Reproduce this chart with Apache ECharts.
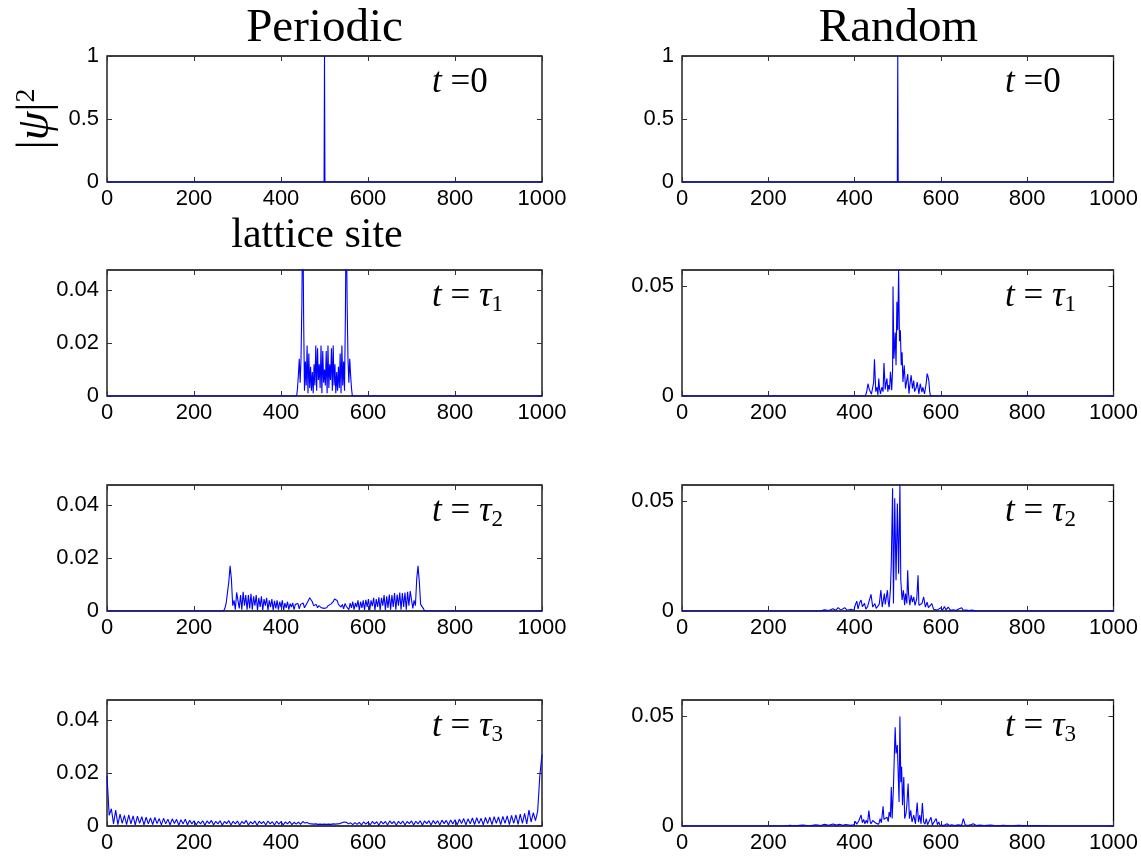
<!DOCTYPE html>
<html>
<head>
<meta charset="utf-8">
<script src="https://cdn.jsdelivr.net/npm/echarts@6/dist/echarts.min.js"></script>
<style>
html,body{margin:0;padding:0;background:#fff;}
#chart{width:1141px;height:856px;}
</style>
</head>
<body>
<div id="chart"></div>
<script>
// ---------------- DATA ----------------
const columnTitles = ['Periodic', 'Random'];
const xAxisTitle = 'lattice site';
const rowLabels = ['0', '1', '2', '3']; // t=0, tau1, tau2, tau3

// t = 0 (both columns): single occupied site
const t0Sites = [0, 499, 500, 501, 1000];
const t0Vals  = [0, 0, 1, 0, 0];

// Periodic, t = tau1 : sites 436..564 every 2
const perT1Start = 436, perT1Step = 2;
const perT1Vals = [0, 0.003, 0.008, 0.014, 0.005, 0.014, 0.035, 0.075, 0.03, 0.002,
  0.013, 0.004, 0.019, 0.001, 0.016, 0.003, 0.011, 0.002, 0.009, 0.001,
  0.012, 0.004, 0.019, 0.002, 0.018, 0.006, 0.012, 0.003, 0.019, 0.001,
  0.017, 0.005, 0.010, 0.004, 0.017, 0.001, 0.019, 0.003, 0.012, 0.006,
  0.018, 0.002, 0.019, 0.004, 0.012, 0.001, 0.009, 0.002, 0.011, 0.003,
  0.016, 0.001, 0.019, 0.004, 0.013, 0.002, 0.03, 0.075, 0.035, 0.014,
  0.005, 0.014, 0.008, 0.003, 0];

// Periodic, t = tau2 : sites 268..730 every 3
const perT2Start = 268, perT2Step = 3;
const perT2Vals = [0, 0.001, 0.003, 0.0025, 0.011, 0.017, 0.012, 0.002, 0.004, 0.0005,
  0.007, 0.0075, 0.001, 0.006, 0.0005, 0.0072, 0.002, 0.006, 0.0005, 0.006,
  0.001, 0.0065, 0.0005, 0.0055, 0.002, 0.006, 0.0003, 0.005, 0.0015, 0.0055,
  0.0003, 0.0045, 0.002, 0.005, 0.0003, 0.004, 0.0015, 0.0045, 0.0003, 0.0038,
  0.001, 0.004, 0.0005, 0.0035, 0.0015, 0.004, 0.0003, 0.003, 0.0012, 0.0035,
  0.0005, 0.0028, 0.0015, 0.003, 0.0005, 0.0025, 0.0018, 0.0028, 0.0008, 0.0025,
  0.002, 0.003, 0.0012, 0.0022, 0.0025, 0.004, 0.005, 0.0045, 0.0035, 0.002,
  0.0015, 0.0025, 0.0012, 0.002, 0.0015, 0.0012, 0.0018, 0.001, 0.0015, 0.0012,
  0.002, 0.0015, 0.0025, 0.002, 0.0035, 0.0045, 0.005, 0.004, 0.0025, 0.002,
  0.0015, 0.0025, 0.0008, 0.0028, 0.0018, 0.0025, 0.0005, 0.003, 0.0012, 0.0035,
  0.0005, 0.003, 0.0015, 0.004, 0.0003, 0.0035, 0.0012, 0.004, 0.0004, 0.0042,
  0.0015, 0.0045, 0.0003, 0.004, 0.0018, 0.005, 0.0003, 0.0045, 0.0015, 0.0052,
  0.0003, 0.005, 0.002, 0.006, 0.0003, 0.0055, 0.0012, 0.0062, 0.0005, 0.006,
  0.0015, 0.0068, 0.0005, 0.0062, 0.002, 0.007, 0.0005, 0.0068, 0.0015, 0.007,
  0.0005, 0.0072, 0.002, 0.0075, 0.007, 0.001, 0.004, 0.002, 0.012, 0.017,
  0.011, 0.0025, 0.003, 0.001, 0];

// Periodic, t = tau3 : sites 0..1000 every 5
const perT3Start = 0, perT3Step = 5;
const perT3Vals = [
  0.019, 0.004, 0.0065, 0.0008, 0.006, 0.0005, 0.0045, 0.001, 0.004, 0.0005,
  0.0042, 0.0008, 0.0038, 0.0004, 0.0037, 0.001, 0.0035, 0.0004, 0.0033, 0.0008,
  0.003, 0.0005, 0.0032, 0.0009, 0.0028, 0.0004, 0.0029, 0.0008, 0.0026, 0.0004,
  0.0027, 0.0009, 0.0025, 0.0003, 0.0024, 0.0008, 0.0026, 0.0004, 0.0022, 0.0008,
  0.002, 0.0004, 0.0018, 0.0008, 0.002, 0.0003, 0.0019, 0.0009, 0.0021, 0.0004,
  0.0018, 0.0008, 0.002, 0.0003, 0.0017, 0.0009, 0.002, 0.0004, 0.0018, 0.0008,
  0.0019, 0.0003, 0.0017, 0.0009, 0.0021, 0.0004, 0.0016, 0.0008, 0.0019, 0.0003,
  0.0018, 0.0009, 0.0017, 0.0004, 0.0019, 0.0008, 0.0016, 0.0004, 0.0018, 0.0007,
  0.0017, 0.0004, 0.0015, 0.0008, 0.0017, 0.0005, 0.0014, 0.0007, 0.0015, 0.0006,
  0.0017, 0.0011, 0.0013, 0.0009, 0.0008, 0.0007, 0.0008, 0.0006, 0.0007, 0.0006,
  0.0007, 0.0006, 0.0007, 0.0006, 0.0008, 0.0007, 0.0008, 0.0009, 0.0012, 0.0015,
  0.0014, 0.0008, 0.0012, 0.0005, 0.0013, 0.0006, 0.0014, 0.0004, 0.0016, 0.0007,
  0.0015, 0.0004, 0.0017, 0.0008, 0.0016, 0.0003, 0.0018, 0.0008, 0.0017, 0.0004,
  0.0019, 0.0009, 0.0017, 0.0003, 0.0018, 0.0008, 0.0019, 0.0004, 0.0017, 0.0009,
  0.0019, 0.0004, 0.0018, 0.0008, 0.002, 0.0003, 0.0019, 0.0009, 0.002, 0.0004,
  0.0021, 0.0008, 0.002, 0.0004, 0.0022, 0.0009, 0.0021, 0.0004, 0.0023, 0.0008,
  0.0024, 0.0004, 0.0026, 0.0009, 0.0028, 0.0004, 0.0027, 0.0008, 0.003, 0.0005,
  0.0031, 0.0009, 0.0029, 0.0004, 0.0032, 0.0009, 0.0033, 0.0005, 0.0035, 0.001,
  0.0034, 0.0005, 0.0036, 0.001, 0.0038, 0.0005, 0.004, 0.001, 0.0042, 0.0006,
  0.0045, 0.001, 0.0048, 0.0008, 0.006, 0.0015, 0.005, 0.002, 0.0055, 0.019,
  0.027];

// Random, t = tau1
const rndT1Sites = [0, 425, 428, 431, 434, 437, 439, 441, 444, 446, 449, 452, 454, 456, 458, 460, 463, 466, 468, 471,
  473, 475, 477, 479, 481, 483, 485, 486, 488, 489, 491, 493, 494, 496, 498, 500, 502, 504, 506, 508,
  510, 512, 515, 518, 520, 523, 526, 528, 531, 534, 537, 539, 541, 543, 545, 549, 552, 556, 558, 560,
  562, 564, 566, 568, 570, 572, 574, 576, 1000];
const rndT1Vals = [0, 0, 0.002, 0.0056, 0.003, 0.0026, 0.0008, 0.003, 0.006, 0.0168, 0.002, 0.004, 0.0005, 0.008, 0.003, 0.001, 0.004, 0.002, 0.015, 0.003,
  0.006, 0.008, 0.002, 0.005, 0.003, 0.011, 0.006, 0.0026, 0.012, 0.050, 0.017, 0.024, 0.029, 0.014, 0.043, 0.030, 0.058, 0.025, 0.030, 0.014,
  0.020, 0.0064, 0.014, 0.0034, 0.006, 0.010, 0.001, 0.005, 0.0095, 0.0034, 0.007, 0.002, 0.0026, 0.004, 0.0064, 0.001, 0.0056, 0.0018, 0.004, 0.0034,
  0.001, 0.0003, 0.006, 0.0102, 0.009, 0.007, 0.002, 0, 0];

// Random, t = tau2
const rndT2Sites = [0, 320, 330, 340, 350, 356, 362, 368, 377, 383, 392, 398, 402, 405, 408, 412, 415, 418, 423, 426,
  430, 434, 438, 442, 447, 450, 453, 457, 461, 464, 469, 471, 473, 476, 478, 480, 483, 485, 488, 490,
  493, 496, 499, 502, 505, 507, 510, 513, 516, 518, 521, 523, 525, 528, 531, 534, 537, 540, 544, 547,
  549, 552, 556, 560, 564, 568, 571, 574, 579, 583, 587, 591, 595, 600, 604, 608, 612, 617, 622, 629,
  635, 640, 648, 652, 659, 665, 672, 682, 1000];
const rndT2Vals = [0, 0, 0.0005, 0.0002, 0.001, 0.0003, 0.0015, 0.0004, 0.0015, 0.0003, 0.0008, 0.0002, 0.003, 0.0045, 0.001, 0.004, 0.005, 0.002, 0.0035, 0.0008,
  0.002, 0.0012, 0.0076, 0.0018, 0.0034, 0.0012, 0.0006, 0.003, 0.0095, 0.0018, 0.008, 0.003, 0.0056, 0.0095, 0.004, 0.0018, 0.010, 0.0217, 0.056, 0.0034,
  0.0514, 0.014, 0.049, 0.017, 0.058, 0.014, 0.005, 0.0095, 0.0026, 0.008, 0.0034, 0.0186, 0.008, 0.0026, 0.0072, 0.004, 0.0064, 0.0026, 0.0056, 0.0163,
  0.0026, 0.0018, 0.0034, 0.0064, 0.0018, 0.004, 0.0015, 0.001, 0.0034, 0.0008, 0.001, 0.0004, 0.0006, 0.0015, 0.0004, 0.002, 0.0005, 0.0018, 0.0003, 0.0006,
  0.0002, 0.0008, 0.0015, 0.0003, 0.0004, 0.0002, 0.0004, 0, 0];

// Random, t = tau3
const rndT3Sites = [0, 240, 250, 260, 280, 295, 310, 322, 330, 340, 350, 358, 365, 372, 380, 390, 398, 402, 405, 410,
  415, 418, 421, 424, 427, 430, 433, 436, 438, 442, 446, 450, 453, 456, 459, 462, 466, 468, 471, 475,
  478, 480, 483, 485, 487, 490, 492, 494, 496, 499, 501, 503, 505, 507, 509, 511, 514, 516, 519, 521,
  524, 527, 530, 533, 537, 541, 545, 548, 551, 554, 557, 560, 563, 566, 569, 572, 577, 580, 583, 589,
  592, 595, 598, 602, 608, 614, 620, 625, 632, 640, 648, 652, 656, 662, 668, 675, 682, 690, 700, 715,
  730, 745, 760, 780, 800, 820, 840, 850, 1000];
const rndT3Vals = [0, 0, 0.0003, 0.0001, 0.0004, 0.0001, 0.0005, 0.0002, 0.0008, 0.0003, 0.0009, 0.0004, 0.0008, 0.0003, 0.0007, 0.0003, 0.0005, 0.002, 0.0008, 0.0025,
  0.005, 0.0015, 0.003, 0.001, 0.0026, 0.0012, 0.007, 0.002, 0.001, 0.0025, 0.0034, 0.0012, 0.0018, 0.0008, 0.0034, 0.0015, 0.009, 0.003, 0.0026, 0.004,
  0.002, 0.0064, 0.004, 0.0178, 0.0034, 0.0178, 0.032, 0.045, 0.033, 0.037, 0.037, 0.011, 0.050, 0.020, 0.027, 0.0095, 0.0224, 0.0034, 0.0056, 0.0095,
  0.0194, 0.0034, 0.0072, 0.0018, 0.005, 0.001, 0.0107, 0.0018, 0.005, 0.001, 0.0105, 0.0018, 0.0008, 0.0034, 0.0006, 0.001, 0.004, 0.0005, 0.001, 0.0034,
  0.0006, 0.0018, 0.0004, 0.001, 0.0003, 0.001, 0.0002, 0.0006, 0.0002, 0.0005, 0.0003, 0.0034, 0.0006, 0.0002, 0.0005, 0.001, 0.0002, 0.0004, 0.0002, 0.0004,
  0.0001, 0.0003, 0.0001, 0.0003, 0.0001, 0.0002, 0.0001, 0, 0];

// y-axis ranges / tick spacing
const yMaxRow1 = 1, yIntRow1 = 0.5;
const yMaxLeft = 0.0475, yIntLeft = 0.02;
const yMaxRight = 0.0575, yIntRight = 0.05;

// ---------------- BUILD ----------------
function stepPairs(start, step, vals, padLeft, padRight) {
  const out = [];
  if (padLeft) out.push([0, 0]);
  vals.forEach((v, i) => out.push([start + i * step, v]));
  if (padRight) out.push([1000, 0]);
  return out;
}
function zipPairs(sites, vals) { return sites.map((s, i) => [s, vals[i]]); }

const panels = [
  { data: zipPairs(t0Sites, t0Vals), max: yMaxRow1, interval: yIntRow1, row: 0, col: 0 },
  { data: stepPairs(perT1Start, perT1Step, perT1Vals, true, true), max: yMaxLeft, interval: yIntLeft, row: 1, col: 0 },
  { data: stepPairs(perT2Start, perT2Step, perT2Vals, true, true), max: yMaxLeft, interval: yIntLeft, row: 2, col: 0 },
  { data: stepPairs(perT3Start, perT3Step, perT3Vals, false, false), max: yMaxLeft, interval: yIntLeft, row: 3, col: 0 },
  { data: zipPairs(t0Sites, t0Vals), max: yMaxRow1, interval: yIntRow1, row: 0, col: 1 },
  { data: zipPairs(rndT1Sites, rndT1Vals), max: yMaxRight, interval: yIntRight, row: 1, col: 1 },
  { data: zipPairs(rndT2Sites, rndT2Vals), max: yMaxRight, interval: yIntRight, row: 2, col: 1 },
  { data: zipPairs(rndT3Sites, rndT3Vals), max: yMaxRight, interval: yIntRight, row: 3, col: 1 }
];

const rowTops = [56, 270, 485, 700];
const gridH = 126;
const colLeft = [107, 682];
const colWidth = [435, 433];

const sansFont = 'Liberation Sans, Arial, Helvetica, sans-serif';
const serifFont = 'Liberation Serif, Times New Roman, serif';
const blue = '#0000ff';

const grid = [], xAxis = [], yAxis = [], series = [], title = [];
function tick() { return { show: true, inside: true, length: 5, lineStyle: { color: '#333', width: 1 } }; }
function noLine() { return { show: false, onZero: false }; }

panels.forEach((p, i) => {
  grid.push({
    left: colLeft[p.col], top: rowTops[p.row], width: colWidth[p.col], height: gridH,
    show: true, borderColor: '#000', borderWidth: 1.3, backgroundColor: '#fff', containLabel: false
  });
  xAxis.push({
    type: 'value', gridIndex: i, min: 0, max: 1000, interval: 200, position: 'bottom',
    axisLine: noLine(), axisTick: tick(), splitLine: { show: false },
    axisLabel: { color: '#000', fontFamily: sansFont, fontSize: 22, margin: 6, formatter: v => String(v) }
  });
  xAxis.push({
    type: 'value', gridIndex: i, min: 0, max: 1000, interval: 200, position: 'top',
    axisLine: noLine(), axisTick: tick(), splitLine: { show: false },
    axisLabel: { show: false }
  });
  yAxis.push({
    type: 'value', gridIndex: i, min: 0, max: p.max, interval: p.interval, position: 'left',
    axisLine: noLine(), axisTick: tick(), splitLine: { show: false },
    axisLabel: { color: '#000', fontFamily: sansFont, fontSize: 22, margin: 8,
      showMaxLabel: p.row === 0 }
  });
  yAxis.push({
    type: 'value', gridIndex: i, min: 0, max: p.max, interval: p.interval, position: 'right',
    axisLine: noLine(), axisTick: tick(), splitLine: { show: false },
    axisLabel: { show: false }
  });
  series.push({
    type: 'line', xAxisIndex: 2 * i, yAxisIndex: 2 * i, data: p.data,
    showSymbol: false, symbol: 'none', clip: true, animation: false,
    lineStyle: { color: blue, width: 1.1 }, z: 3
  });
  const lbl = rowLabels[p.row];
  const txt = lbl === '0' ? '{i|t} =0' : '{i|t} = {i|τ}{sub|' + lbl + '}';
  title.push({
    text: txt, left: colLeft[p.col] + (p.col === 0 ? 325 : 323), top: rowTops[p.row] + 8, padding: 0,
    textStyle: { fontFamily: serifFont, fontSize: 35, fontWeight: 'normal', color: '#000', lineHeight: 38,
      rich: {
        i: { fontFamily: serifFont, fontSize: 35, fontStyle: 'italic', color: '#000', lineHeight: 38 },
        sub: { fontFamily: serifFont, fontSize: 23, color: '#000', lineHeight: 22, verticalAlign: 'bottom' }
      } }
  });
});

// column titles
columnTitles.forEach((t, c) => {
  title.push({
    text: t, left: colLeft[c] + colWidth[c] / 2, top: 5, textAlign: 'center', padding: 0,
    textStyle: { fontFamily: serifFont, fontSize: 47, fontWeight: 'normal', color: '#000' }
  });
});
// x-axis title under the first panel
title.push({
  text: xAxisTitle, left: 317, top: 215, textAlign: 'center', padding: 0,
  textStyle: { fontFamily: serifFont, fontSize: 42, fontWeight: 'normal', color: '#000' }
});

// y-axis title, rotated
const graphic = [{
  type: 'text', x: 36, y: 119, rotation: Math.PI / 2,
  style: {
    text: '|{p|ψ}|{s|2}', fill: '#000', font: '46px ' + serifFont,
    align: 'center', verticalAlign: 'middle',
    rich: {
      p: { fontFamily: serifFont, fontSize: 46, fontStyle: 'italic', fill: '#000' },
      s: { fontFamily: serifFont, fontSize: 28, fill: '#000', verticalAlign: 'top', lineHeight: 28 }
    }
  }
}];

const chart = echarts.init(document.getElementById('chart'), null, { renderer: 'canvas' });
chart.setOption({
  animation: false,
  backgroundColor: '#fff',
  title, grid, xAxis, yAxis, series, graphic
});
</script>
</body>
</html>
